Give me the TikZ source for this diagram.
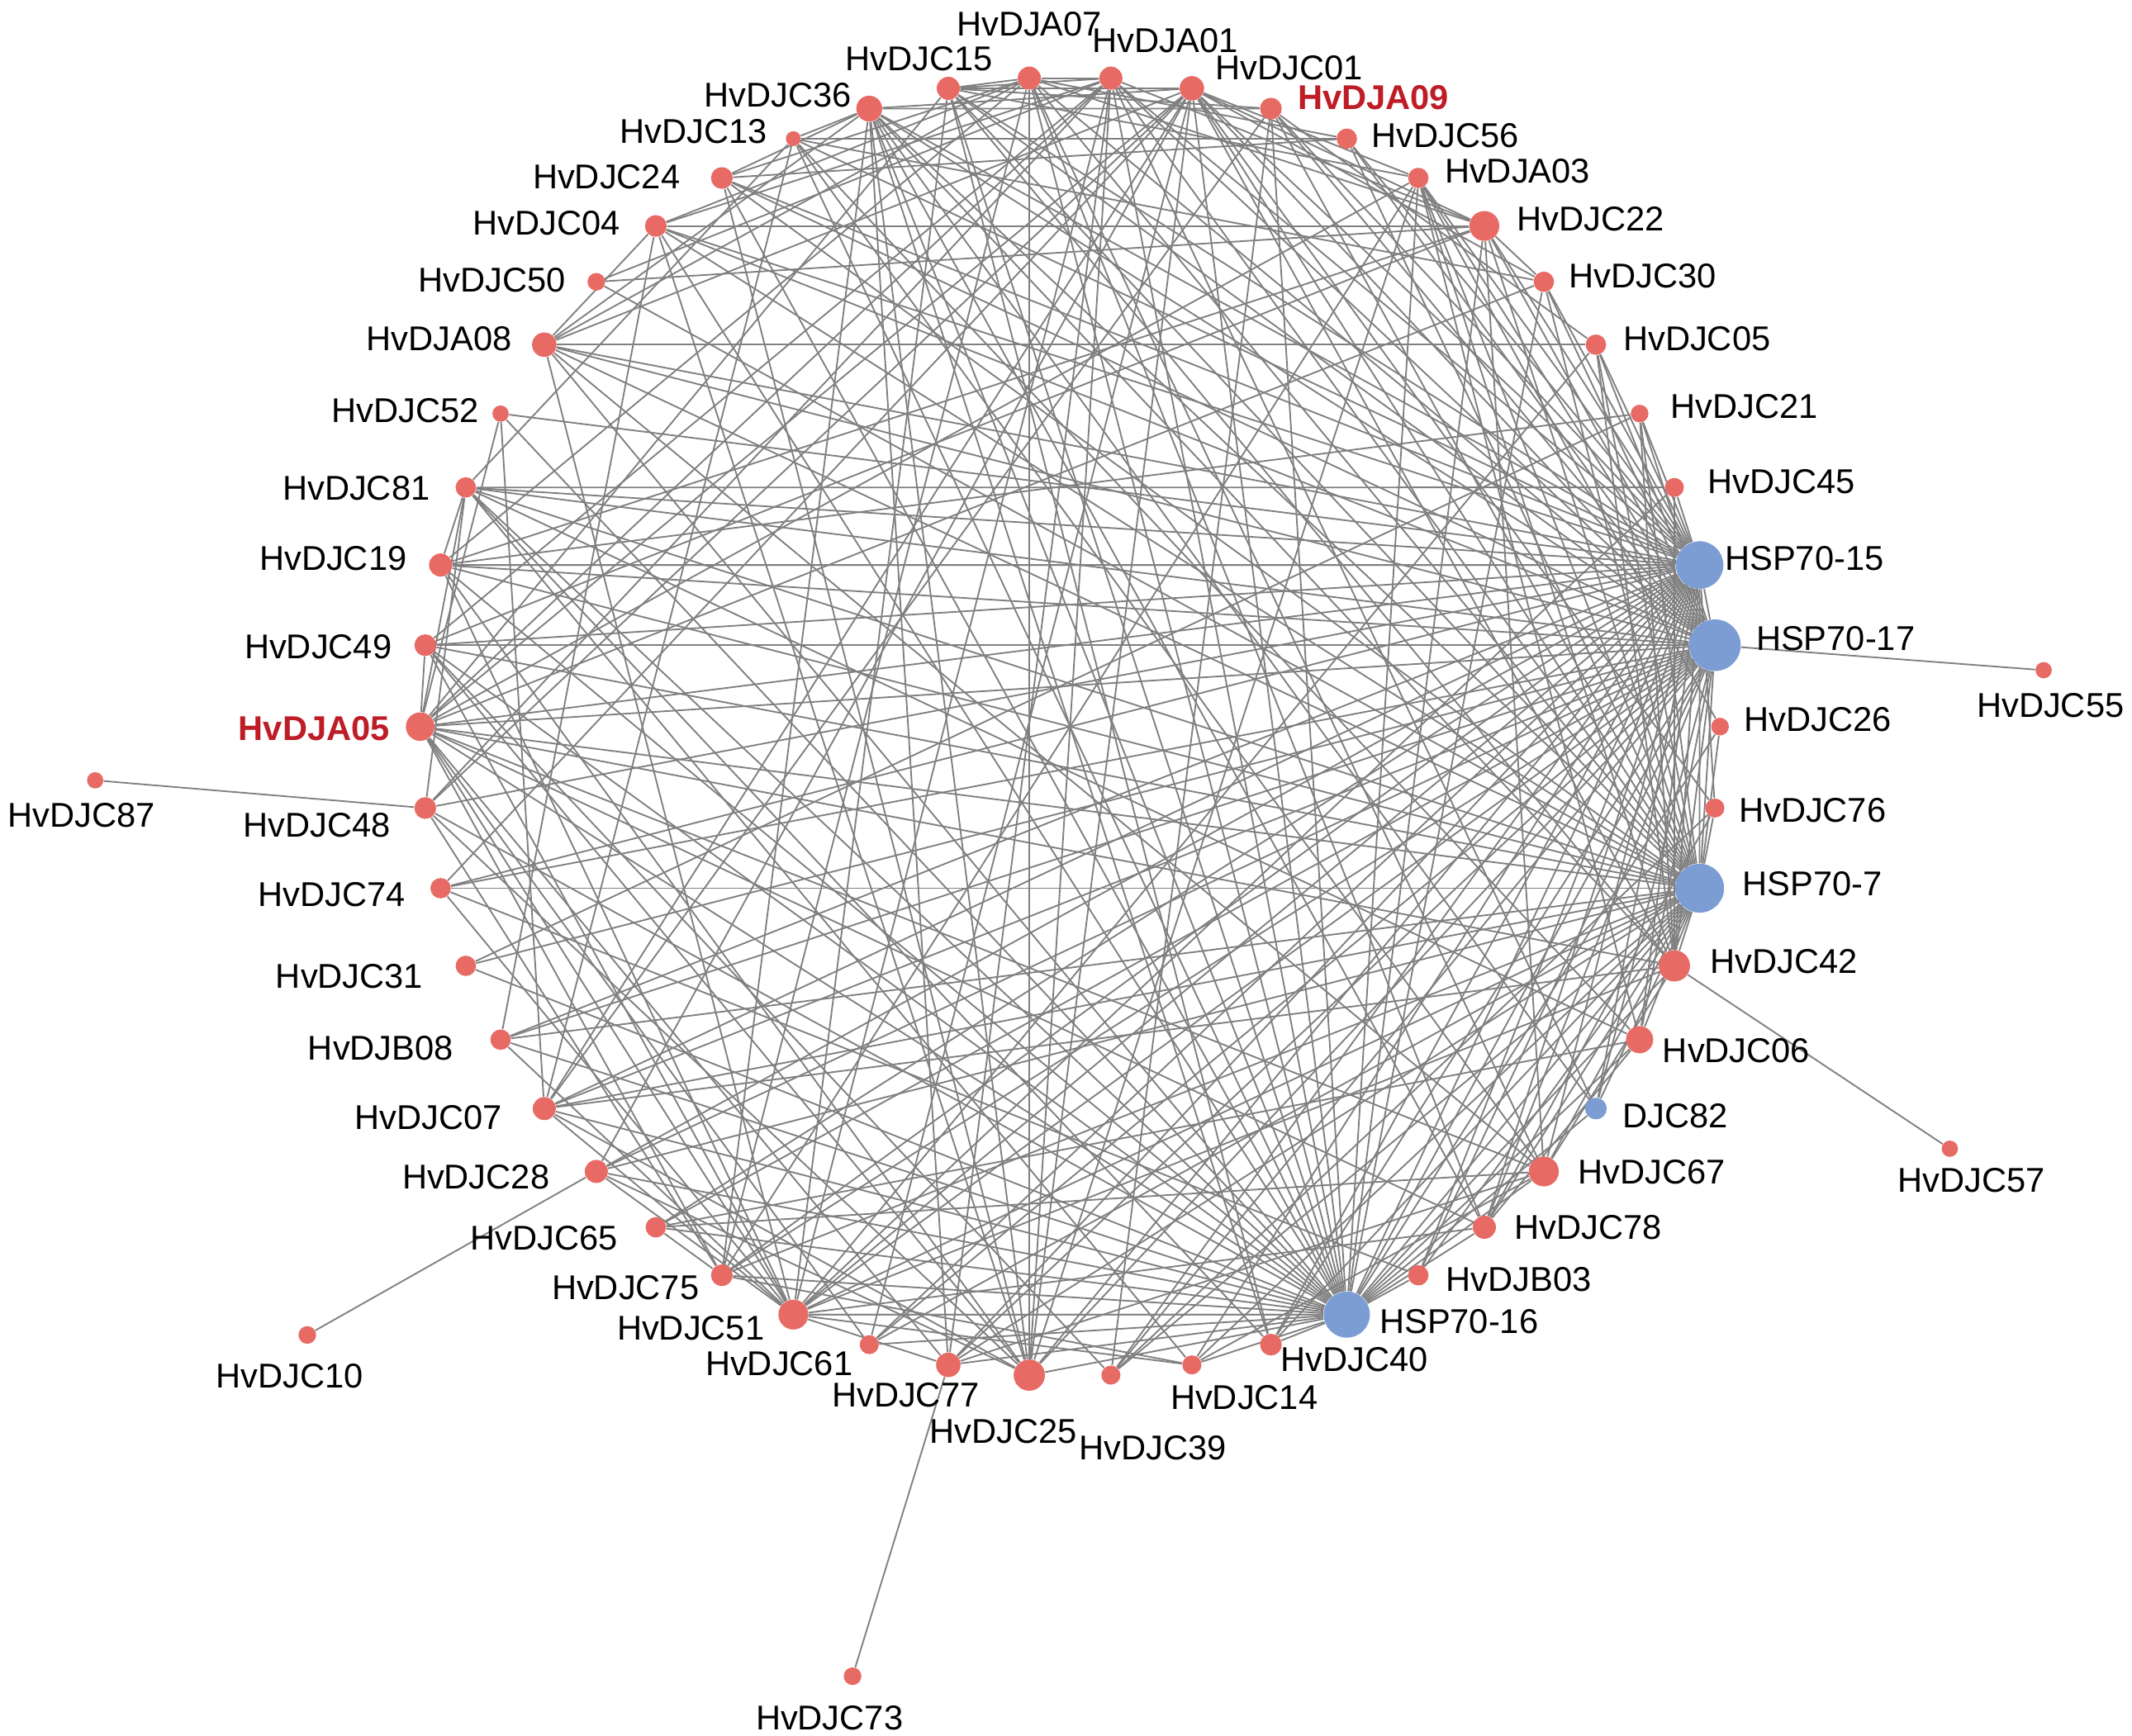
\documentclass[tikz,border=0pt]{standalone}
\usepackage{fontspec}
\setmainfont{Liberation Sans}
\usetikzlibrary{backgrounds}
\definecolor{nodered}{RGB}{232,106,101}
\definecolor{nodeblue}{RGB}{124,157,212}
\definecolor{labred}{RGB}{190,28,38}
\definecolor{edgegray}{RGB}{128,128,128}
\pgfdeclarelayer{edges}
\pgfsetlayers{edges,main}
% class of each ring node: 0 = HSP70 hub, 1 = large, 2 = medium, 3 = small
\def\cls{{1,1,1,3,2,2,3,2,3,2,2,2,1,2,3,3,3,2,2,2,2,1,3,2,1,3,3,2,0,3,2,1,3,2,1,0,3,3,0,0,3,3,3,2,1,2,3,2,1,1}}
\def\ptab{{1,0.95,0.88,0.75, 0.95,0.5,0.3,0.14, 0.88,0.3,0.1,0.06, 0.75,0.14,0.06,0.04}}
\begin{document}
\begin{tikzpicture}[x=0.02cm,y=-0.02cm,
  edge/.style={draw=edgegray, line width=0.65pt},
  dot/.style={circle, inner sep=0pt, draw=none},
  lab/.style={font=\fontsize{14.4}{16}\selectfont, inner sep=0pt, text=black},
  hlab/.style={font=\fontsize{14.4}{16}\selectfont\bfseries, inner sep=0pt, text=labred}]
\useasboundingbox (0,0) rectangle (1568,1277);
% ring nodes
\foreach \i/\r/\c in {0/8.5/nodered,1/8.5/nodered,2/9.5/nodered,3/5.5/nodered,4/8/nodered,
  5/8/nodered,6/6.5/nodered,7/9/nodered,8/6/nodered,9/7.5/nodered,10/8.5/nodered,
  11/8/nodered,12/10.5/nodered,13/8/nodered,14/7.5/nodered,15/7.5/nodered,16/7.5/nodered,
  17/8.5/nodered,18/8.5/nodered,19/7.5/nodered,20/8/nodered,21/11/nodered,22/7/nodered,
  23/9/nodered,24/11.5/nodered,25/7/nodered,26/7/nodered,27/8/nodered,28/17/nodeblue,
  29/7.5/nodered,30/8.5/nodered,31/11/nodered,32/8/nodeblue,33/10/nodered,34/11.5/nodered,
  35/18/nodeblue,36/7/nodered,37/6.5/nodered,38/19/nodeblue,39/17.5/nodeblue,40/7/nodered,
  41/6.5/nodered,42/7.5/nodered,43/7.5/nodered,44/11/nodered,45/7.5/nodered,46/7.5/nodered,
  47/8/nodered,48/9/nodered,49/8.5/nodered}{
  \pgfmathsetmacro\dd{0.04*\r}
  \node[dot, fill=\c, minimum size=\dd cm] (n\i) at ({787+478*cos(93.6+7.2*\i)},{534.5-478*sin(93.6+7.2*\i)}) {};
}
% outlying nodes
\node[dot, fill=nodered, minimum size=0.24cm] (n50) at (70,574) {};
\node[dot, fill=nodered, minimum size=0.26cm] (n51) at (226,982) {};
\node[dot, fill=nodered, minimum size=0.26cm] (n52) at (627,1233) {};
\node[dot, fill=nodered, minimum size=0.24cm] (n53) at (1503,493) {};
\node[dot, fill=nodered, minimum size=0.24cm] (n54) at (1434,845) {};
% labels
\foreach \i/\x/\y/\t in {0/757/18/HvDJA07,49/857/30/HvDJA01,1/676/43/HvDJC15,2/572/70/HvDJC36,
  48/948/50/HvDJC01,3/510/97/HvDJC13,46/1063/100/HvDJC56,4/446/130/HvDJC24,45/1116/126/HvDJA03,
  5/402/164/HvDJC04,44/1170/161/HvDJC22,6/362/206/HvDJC50,43/1208/203/HvDJC30,7/323/249/HvDJA08,
  42/1248/249/HvDJC05,8/298/302/HvDJC52,41/1283/299/HvDJC21,9/262/359/HvDJC81,40/1310/354/HvDJC45,
  10/245/411/HvDJC19,39/1327/411/HSP70-15,11/234/476/HvDJC49,38/1350/470/HSP70-17,
  37/1337/529/HvDJC26,50/60/600/HvDJC87,13/233/607/HvDJC48,36/1333/596/HvDJC76,
  14/244/658/HvDJC74,35/1333/650/HSP70-7,15/257/718/HvDJC31,34/1312/707/HvDJC42,
  16/280/771/HvDJB08,33/1277/773/HvDJC06,17/315/822/HvDJC07,32/1232/821/DJC82,
  18/350/866/HvDJC28,31/1215/862/HvDJC67,19/400/911/HvDJC65,30/1168/903/HvDJC78,
  20/460/947/HvDJC75,29/1117/941/HvDJB03,21/508/977/HvDJC51,28/1073/972/HSP70-16,
  22/573/1003/HvDJC61,27/996/1000/HvDJC40,23/666/1026/HvDJC77,26/915/1028/HvDJC14,
  24/738/1053/HvDJC25,25/848/1065/HvDJC39,51/213/1012/HvDJC10,52/610/1264/HvDJC73,
  53/1508/519/HvDJC55,54/1450/868/HvDJC57}{
  \node[lab] (l\i) at (\x,\y) {\t};
}
\node[hlab] (l47) at (1010,72) {HvDJA09};
\node[hlab] (l12) at (231,536) {HvDJA05};
% connectors
\begin{pgfonlayer}{edges}
\pgfmathsetseed{2024}
\foreach \i in {0,...,48}{
  \pgfmathtruncatemacro\js{\i+1}
  \foreach \j in {\js,...,49}{
    \pgfmathtruncatemacro\ci{\cls[\i]}
    \pgfmathtruncatemacro\cj{\cls[\j]}
    \pgfmathtruncatemacro\kk{\ci*4+\cj}
    \pgfmathsetmacro\pp{\ptab[\kk]}
    \pgfmathsetmacro\rr{rnd}
    \ifdim\rr pt<\pp pt\relax \draw[edge] (n\i) -- (n\j);\fi
  }
}
\draw[edge] (n50) -- (n13);
\draw[edge] (n51) -- (n18);
\draw[edge] (n52) -- (n23);
\draw[edge] (n53) -- (n38);
\draw[edge] (n54) -- (n34);
\draw[edge] (n3) -- (n46);
\draw[edge] (n5) -- (n44);
\draw[edge] (n7) -- (n42);
\draw[edge] (n10) -- (n39);
\draw[edge] (n11) -- (n38);
\draw[edge] (n14) -- (n35);
\draw[edge] (n21) -- (n28);
\draw[edge] (n11) -- (n12);
\end{pgfonlayer}
\end{tikzpicture}
\end{document}
